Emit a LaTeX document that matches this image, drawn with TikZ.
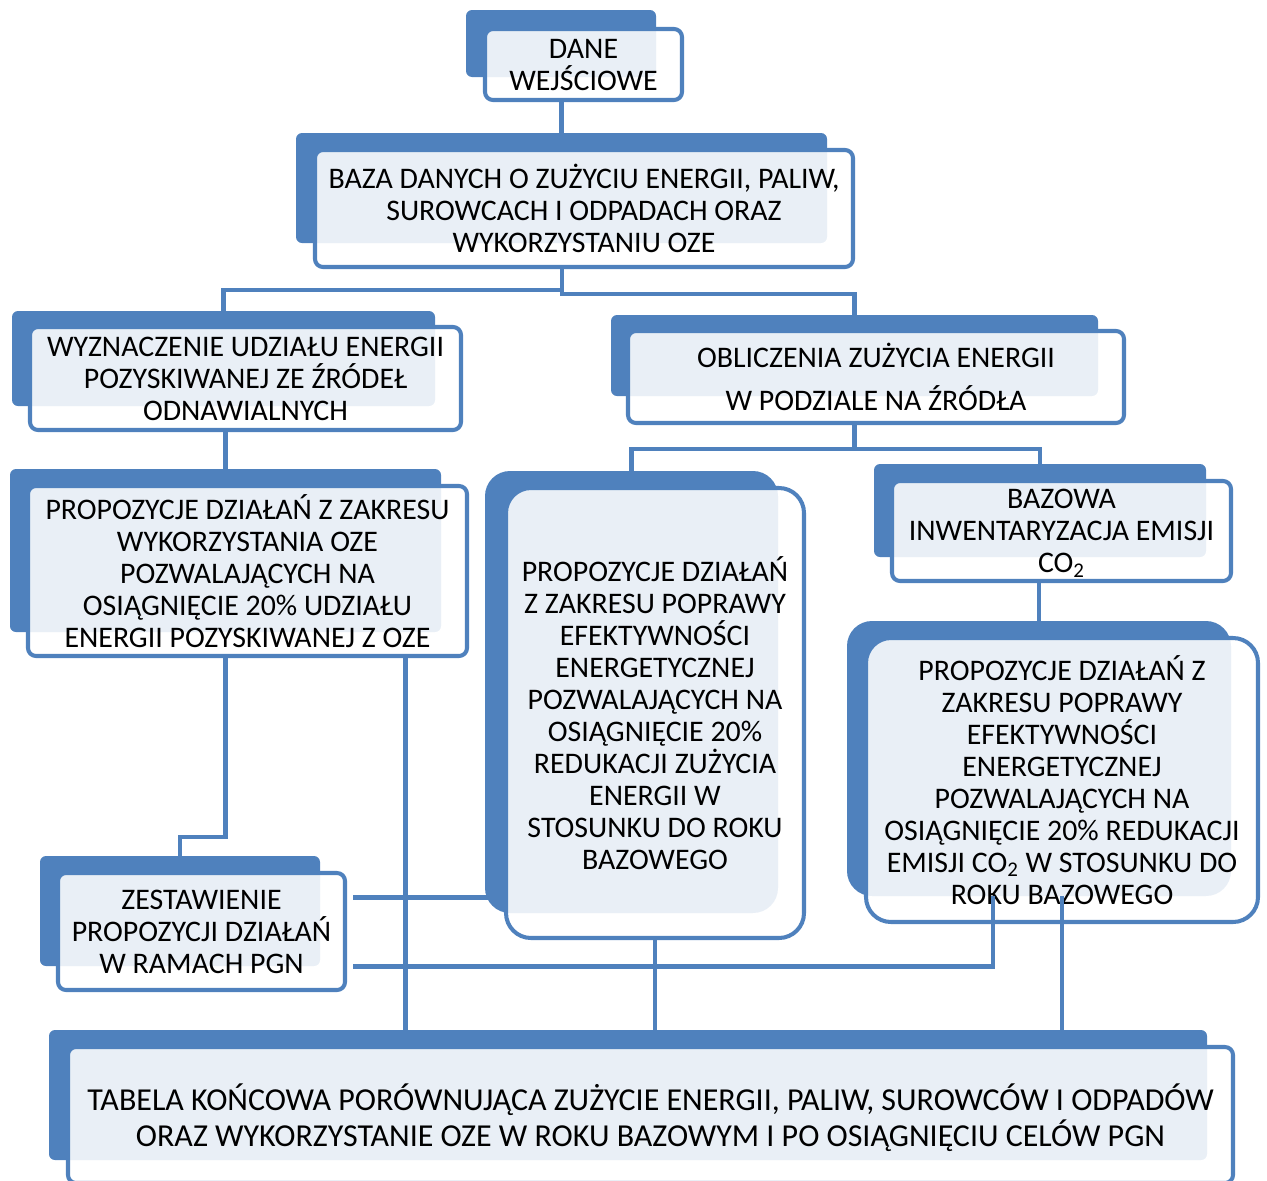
\documentclass[tikz,border=0pt]{standalone}
\usepackage{fontspec}
\setmainfont{Carlito}
\usetikzlibrary{fit,calc}
\definecolor{niebieski}{HTML}{4F81BD}

\begin{document}
\begin{tikzpicture}[x=0.02cm, y=-0.02cm,
  tlo/.style={fill=niebieski, rounded corners=0.12cm, inner sep=0pt},
  blok/.style={draw=niebieski, line width=2.3pt, fill=white, fill opacity=0.88, text opacity=1,
    rounded corners=0.16cm, align=center, inner sep=0pt, font=\fontsize{17}{18.2}\selectfont,
    text depth=0pt},
  rozm/.style 2 args={minimum width=#1*0.02cm, minimum height=#2*0.02cm},
  duzy/.style={rounded corners=0.5cm},
  lin/.style={draw=niebieski, line width=2.3pt}]
\useasboundingbox (0,0) rectangle (1267,1180);
% bloki
\node[tlo, fit={(466,10) (656,77)}] (dane-t) {};
\node[blok, rozm={197}{71}] (dane) at (583.5,64.5) {DANE\\WEJŚCIOWE};
\node[tlo, fit={(296,133) (827,243)}] (baza-t) {};
\node[blok, rozm={538}{117}] (baza) at (584,208.5) {BAZA DANYCH O ZUŻYCIU ENERGII, PALIW,\\SUROWCACH I ODPADACH ORAZ\\WYKORZYSTANIU OZE};
\node[tlo, fit={(12,311) (435,406)}] (wyzn-t) {};
\node[blok, rozm={431}{103}] (wyzn) at (245.5,378.5) {WYZNACZENIE UDZIAŁU ENERGII\\POZYSKIWANEJ ZE ŹRÓDEŁ\\ODNAWIALNYCH};
\node[tlo, fit={(611,315) (1098,396)}] (obl-t) {};
\node[blok, rozm={496}{92}] (obl) at (876,377) {OBLICZENIA ZUŻYCIA ENERGII\\[0.22cm]W PODZIALE NA ŹRÓDŁA};
\node[tlo, fit={(10,469) (441,632)}] (p1-t) {};
\node[blok, rozm={439}{170}] (p1) at (247.5,571) {PROPOZYCJE DZIAŁAŃ Z ZAKRESU\\WYKORZYSTANIA OZE\\POZWALAJĄCYCH NA\\OSIĄGNIĘCIE 20\% UDZIAŁU\\ENERGII POZYSKIWANEJ Z OZE};
\node[tlo, duzy, fit={(485,471) (778,913)}] (p2-t) {};
\node[blok, duzy, rozm={298}{450}] (p2) at (655,713) {PROPOZYCJE DZIAŁAŃ\\Z ZAKRESU POPRAWY\\EFEKTYWNOŚCI\\ENERGETYCZNEJ\\POZWALAJĄCYCH NA\\OSIĄGNIĘCIE 20\%\\REDUKACJI ZUŻYCIA\\ENERGII W\\STOSUNKU DO ROKU\\BAZOWEGO};
\node[tlo, fit={(874,464) (1206,557)}] (baz-t) {};
\node[blok, rozm={339}{100}] (baz) at (1061.5,531) {BAZOWA\\INWENTARYZACJA EMISJI\\CO\textsubscript{2}};
\node[tlo, duzy, fit={(847,621) (1231,896)}] (p3-t) {};
\node[blok, duzy, rozm={392}{284}] (p3) at (1062,780) {PROPOZYCJE DZIAŁAŃ Z\\ZAKRESU POPRAWY\\EFEKTYWNOŚCI\\ENERGETYCZNEJ\\POZWALAJĄCYCH NA\\OSIĄGNIĘCIE 20\% REDUKACJI\\EMISJI CO\textsubscript{2} W STOSUNKU DO\\ROKU BAZOWEGO};
\node[tlo, fit={(40,856) (320,966)}] (zest-t) {};
\node[blok, rozm={287}{117}] (zest) at (201.5,931.5) {ZESTAWIENIE\\PROPOZYCJI DZIAŁAŃ\\W RAMACH PGN};
\node[tlo, fit={(49,1030) (1207,1160)}] (tab-t) {};
\node[blok, rozm={1165}{136}, font=\fontsize{18.2}{20.5}\selectfont] (tab) at (650.5,1115) {TABELA KOŃCOWA PORÓWNUJĄCA ZUŻYCIE ENERGII, PALIW, SUROWCÓW I ODPADÓW\\ORAZ WYKORZYSTANIE OZE W ROKU BAZOWYM I PO OSIĄGNIĘCIU CELÓW PGN};
% polaczenia
\draw[lin] ($(dane.south)+(-22,0)$) coordinate (d1) -- (d1 |- baza-t.north);
\coordinate (b1) at ($(baza.south)+(-22,0)$);
\draw[lin] (b1) -- ++(0,21) -| (wyzn-t.north);
\draw[lin] (b1) -- ++(0,25) -| (obl-t.north);
\draw[lin] (wyzn.south -| p1-t.north) -- (p1-t.north);
\draw[lin] (obl.south -| obl-t.south) coordinate (o1) -- ++(0,24) -| (p2-t.north);
\draw[lin] (o1) -- ++(0,24) -| (baz-t.north);
\draw[lin] (baz.south -| p3-t.north) -- (p3-t.north);
\draw[lin] (p1.south -| p1-t.north) -- ++(0,179) -| (zest-t.north);
\draw[lin] ($(p1.south)+(158,0)$) coordinate (p1a) -- (p1a |- tab-t.north);
\draw[lin] ($(zest.east)+(6,-34)$) coordinate (z1) -- (z1 -| p2.west);
\draw[lin] ($(zest.east)+(6,35)$) -| ($(p3-t.south)+(-46,0)$);
\draw[lin] (p2.south) -- (p2.south |- tab-t.north);
\draw[lin] (p3-t.south -| p3.south) -- (p3.south |- tab-t.north);
\end{tikzpicture}
\end{document}
